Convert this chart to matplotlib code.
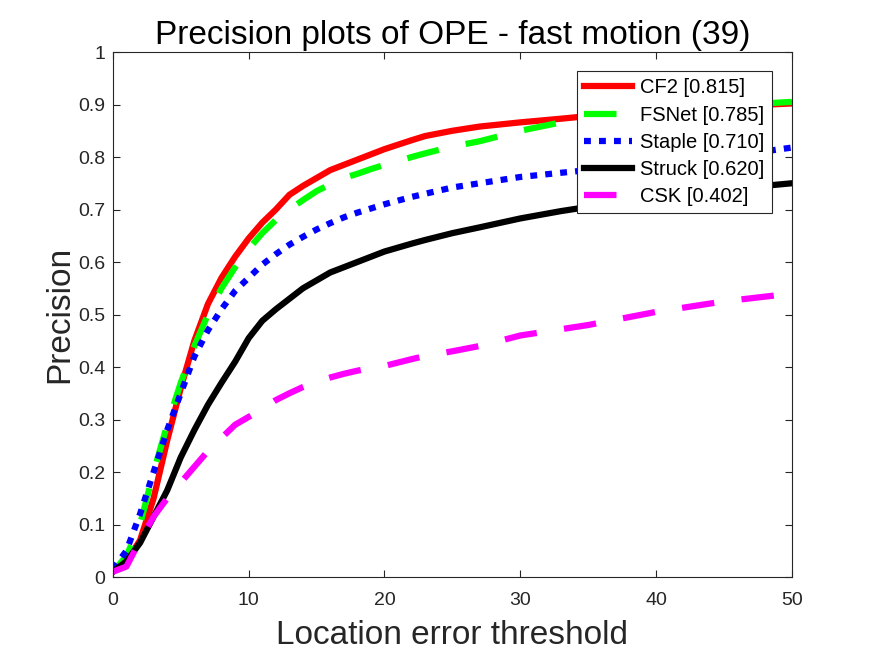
import matplotlib
matplotlib.use('Agg')
import matplotlib.pyplot as plt

plt.rcParams['font.family'] = ['Liberation Sans', 'DejaVu Sans']

thresholds = [0, 1, 2, 3, 4, 5, 6, 7, 8, 9, 10, 11, 12, 13, 14, 15, 16, 17, 18, 19, 20,
              22, 23, 25, 27, 30, 33, 35, 40, 45, 50]

cf2 = [0.01, 0.03, 0.07, 0.15, 0.26, 0.36, 0.45, 0.52, 0.57, 0.61, 0.645, 0.675, 0.70, 0.728,
       0.745, 0.76, 0.775, 0.785, 0.795, 0.805, 0.815, 0.832, 0.84, 0.85, 0.858, 0.866, 0.873,
       0.878, 0.888, 0.896, 0.902]
fsnet = [0.01, 0.04, 0.10, 0.20, 0.29, 0.37, 0.44, 0.50, 0.55, 0.59, 0.625, 0.655, 0.68, 0.70,
         0.718, 0.735, 0.748, 0.76, 0.768, 0.777, 0.785, 0.800, 0.807, 0.82, 0.83, 0.85, 0.866,
         0.874, 0.889, 0.898, 0.905]
staple = [0.015, 0.05, 0.12, 0.20, 0.28, 0.35, 0.42, 0.47, 0.51, 0.545, 0.57, 0.595, 0.615, 0.633,
          0.648, 0.662, 0.674, 0.685, 0.694, 0.702, 0.71, 0.724, 0.73, 0.742, 0.75, 0.762, 0.77,
          0.775, 0.787, 0.80, 0.818]
struck = [0.01, 0.03, 0.065, 0.115, 0.165, 0.228, 0.28, 0.328, 0.37, 0.41, 0.455, 0.488, 0.51, 0.53,
          0.55, 0.565, 0.58, 0.59, 0.60, 0.61, 0.62, 0.635, 0.642, 0.655, 0.666, 0.683, 0.697,
          0.705, 0.725, 0.738, 0.75]
csk = [0.01, 0.02, 0.07, 0.115, 0.15, 0.18, 0.21, 0.24, 0.265, 0.29, 0.305, 0.32, 0.337, 0.35,
       0.362, 0.372, 0.38, 0.387, 0.393, 0.398, 0.402, 0.415, 0.421, 0.43, 0.44, 0.46, 0.472,
       0.48, 0.505, 0.525, 0.54]

labels = ['CF2 [0.815]', 'FSNet [0.785]', 'Staple [0.710]', 'Struck [0.620]', 'CSK [0.402]']

fig = plt.figure(figsize=(8.75, 6.56), dpi=100)
ax = fig.add_axes([0.129, 0.1204, 0.776, 0.8003])

dash = (0, (5.2, 4.4))
ax.plot(thresholds, cf2, color='#ff0000', lw=4.5, label=labels[0])
ax.plot(thresholds, fsnet, color='#00ff00', lw=4.5, ls=dash, label=labels[1])
ax.plot(thresholds, staple, color='#0000ff', lw=4.5, ls=(0, (1.1, 1.3)), dash_capstyle='butt',
        label=labels[2])
ax.plot(thresholds, struck, color='#000000', lw=4.5, label=labels[3])
ax.plot(thresholds, csk, color='#ff00ff', lw=4.5, ls=dash, label=labels[4])

ax.set_xlim(0, 50)
ax.set_ylim(0, 1)
ax.set_xticks([0, 10, 20, 30, 40, 50])
ax.set_yticks([i / 10 for i in range(11)])
ax.set_yticklabels(['0', '0.1', '0.2', '0.3', '0.4', '0.5', '0.6', '0.7', '0.8', '0.9', '1'])
ax.tick_params(direction='in', top=True, right=True, labelsize=14, colors='#262626',
               length=5, width=0.8)
ax.tick_params(axis='x', pad=11)
ax.tick_params(axis='y', pad=5.5)
for s in ax.spines.values():
    s.set_color('#262626')
    s.set_linewidth(0.8)

ax.set_title('Precision plots of OPE - fast motion (39)', fontsize=24, pad=6)
ax.set_xlabel('Location error threshold', fontsize=24, color='#262626', labelpad=8)
ax.set_ylabel('Precision', fontsize=24, color='#262626', labelpad=2)

leg = ax.legend(loc='upper right', bbox_to_anchor=(0.97, 0.963), fontsize=14.5,
                handlelength=2.4, fancybox=False, framealpha=1, edgecolor='#262626',
                borderpad=0.35, labelspacing=0.4, handletextpad=0.4, borderaxespad=0)
leg.get_frame().set_linewidth(0.8)

fig.savefig('out.png', dpi=100)
